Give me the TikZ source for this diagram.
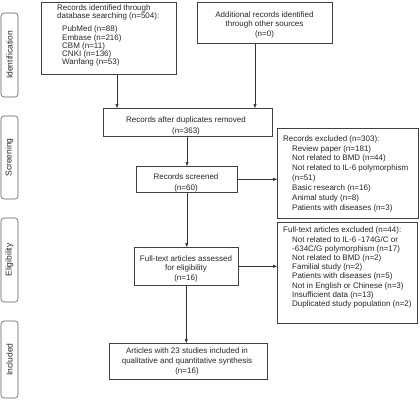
\documentclass[tikz,border=0pt]{standalone}
\usepackage{fontspec}
\setmainfont{Liberation Sans}
\usetikzlibrary{arrows.meta}
\begin{document}
\begin{tikzpicture}[x=1pt,y=-1pt,
  box/.style={draw=black!75, line width=0.6pt, anchor=north west, inner sep=0pt},
  phase/.style={draw=black!65, line width=0.6pt, rounded corners=3pt, rotate=90, inner sep=0pt, minimum height=17pt, font=\fontsize{8.5}{10}\selectfont, text=black!85},
  txt/.style={inner sep=0pt, text=black!85},
  arr/.style={draw=black!80, line width=0.6pt, -{Triangle[length=4pt,width=3pt]}}
]
\useasboundingbox (0,0) rectangle (420,400);

% phase labels
\node[phase, minimum width=84pt] (pid) at (9.5,55) {Identification};
\node[phase, minimum width=83pt] (pscr) at (9.5,157.5) {Screening};
\node[phase, minimum width=84pt] (pel) at (9.5,260) {Eligibility};
\node[phase, minimum width=77pt] (pinc) at (9.5,359.5) {Included};

% boxes
\node[box, minimum width=135pt, minimum height=72pt] (b1) at (41,2) {};
\node[box, minimum width=135pt, minimum height=41pt] (b2) at (197,2) {};
\node[box, minimum width=169pt, minimum height=28pt] (dup) at (103,108) {};
\node[box, minimum width=101pt, minimum height=26pt] (scr) at (136,166) {};
\node[box, minimum width=141pt, minimum height=90pt] (ex1) at (277,128) {};
\node[box, minimum width=104pt, minimum height=38pt] (ft) at (134,247) {};
\node[box, minimum width=140pt, minimum height=101pt] (ex2) at (277,222) {};
\node[box, minimum width=158pt, minimum height=36pt] (inc) at (109,343) {};

% texts
\node[txt, anchor=north west, align=left, font=\fontsize{8}{8.2}\selectfont] (t1) at (57,4.3)
  {Records identified through\\database searching (n=504):\\[5.2pt]
   \hspace*{5pt}PubMed (n=88)\\\hspace*{5pt}Embase (n=216)\\\hspace*{5pt}CBM (n=11)\\
   \hspace*{5pt}CNKI (n=136)\\\hspace*{5pt}Wanfang (n=53)};
\node[txt, anchor=north, align=center, font=\fontsize{8}{9.1}\selectfont] (t2) at (264.5,11.8)
  {Additional records identified\\through other sources\\(n=0)};
\node[txt, anchor=north, align=center, font=\fontsize{8}{10.5}\selectfont] (t3) at (186,116.8)
  {Records after duplicates removed\\(n=363)};
\node[txt, anchor=north, align=center, font=\fontsize{8}{10.5}\selectfont] (t4) at (186,173.5)
  {Records screened\\(n=60)};
\node[txt, anchor=north west, align=left, font=\fontsize{8}{9.9}\selectfont] (t5) at (283,135.1)
  {Records excluded (n=303):\\
   \hspace*{9pt}Review paper (n=181)\\
   \hspace*{9pt}Not related to BMD (n=44)\\
   \hspace*{9pt}Not related to IL-6 polymorphism\\
   \hspace*{9pt}(n=51)\\
   \hspace*{9pt}Basic research (n=16)\\
   \hspace*{9pt}Animal study (n=8)\\
   \hspace*{9pt}Patients with diseases (n=3)};
\node[txt, anchor=north, align=center, font=\fontsize{8}{9.7}\selectfont] (t6) at (186,255.1)
  {Full-text articles assessed\\for eligibility\\(n=16)};
\node[txt, anchor=north west, align=left, font=\fontsize{8}{9.2}\selectfont] (t7) at (283,226.8)
  {Full-text articles excluded (n=44):\\
   \hspace*{9pt}Not related to IL-6 -174G/C or\\
   \hspace*{9pt}-634C/G polymorphism (n=17)\\
   \hspace*{9pt}Not related to BMD (n=2)\\
   \hspace*{9pt}Familial study (n=2)\\
   \hspace*{9pt}Patients with diseases (n=5)\\
   \hspace*{9pt}Not in English or Chinese (n=3)\\
   \hspace*{9pt}Insufficient data (n=13)\\
   \hspace*{9pt}Duplicated study population (n=2)};
\node[txt, anchor=north, align=center, font=\fontsize{8}{10}\selectfont] (t8) at (187,347.8)
  {Articles with 23 studies included in\\qualitative and quantitative synthesis\\(n=16)};

% connectors
\coordinate (a1) at ([xshift=76pt]b1.south west);
\coordinate (a2) at ([xshift=58pt]b2.south west);
\coordinate (a3) at ([xshift=84pt]dup.south west);
\draw[arr] (a1) -- (a1 |- dup.north);
\draw[arr] (a2) -- (a2 |- dup.north);
\draw[arr] (a3) -- (a3 |- scr.north);
\draw[arr] (scr.east) -- (scr.east -| ex1.west);
\draw[arr] (scr.south) -- (scr.south |- ft.north);
\draw[arr] (ft.east) -- (ft.east -| ex2.west);
\draw[arr] (ft.south) -- (ft.south |- inc.north);
\end{tikzpicture}
\end{document}
